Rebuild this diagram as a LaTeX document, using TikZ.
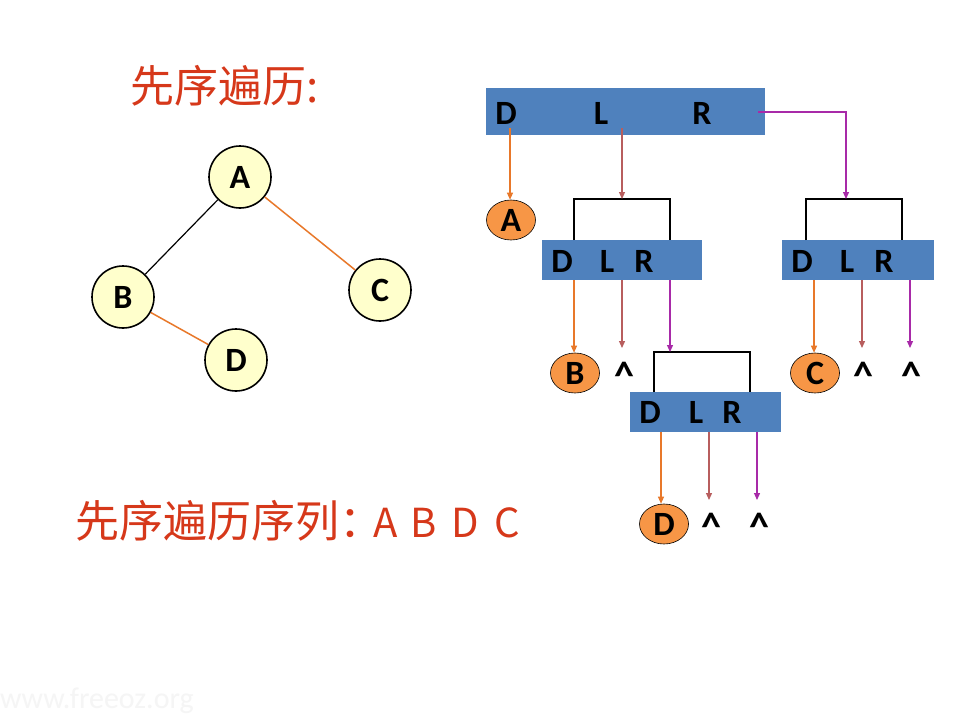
\documentclass[tikz,border=0pt]{standalone}
\usepackage{fontspec}
\setmainfont{Carlito}
\newfontfamily\cjk{Noto Sans CJK SC}
\usetikzlibrary{arrows.meta,shapes.geometric}
\definecolor{titlered}{HTML}{D6381A}
\definecolor{barblue}{HTML}{4F81BD}
\definecolor{nodeyel}{HTML}{FFFFCC}
\definecolor{ellorange}{HTML}{F79646}
\definecolor{arrorange}{HTML}{E8782A}
\definecolor{arrbrown}{HTML}{B85E5E}
\definecolor{arrmag}{HTML}{A82AA8}
\definecolor{edgeorange}{HTML}{E8782A}
\tikzset{
  treenode/.style={circle, draw=black, line width=1.6pt, fill=nodeyel, minimum size=62pt, inner sep=0pt, font=\fontsize{34}{34}\selectfont\bfseries},
  bar/.style={rectangle, fill=barblue, draw=none, inner sep=0pt, anchor=north west},
  barlbl/.style={font=\fontsize{34}{34}\selectfont\bfseries, inner sep=0pt},
  res/.style={ellipse, draw=black, line width=0.6pt, fill=ellorange, minimum width=49pt, minimum height=40pt, inner sep=0pt, font=\fontsize{34}{34}\selectfont\bfseries},
  nil/.style={font=\fontsize{40}{40}\selectfont\bfseries, inner sep=0pt},
  bracket/.style={draw=black, line width=1.5pt},
  tip/.style={-{Triangle[width=6pt,length=7pt]}},
  aD/.style={tip, draw=arrorange, line width=1.2pt, color=arrorange},
  aL/.style={tip, draw=arrbrown, line width=1.2pt, color=arrbrown},
  aR/.style={tip, draw=arrmag, line width=1.2pt, color=arrmag},
}
\begin{document}
\begin{tikzpicture}[x=1pt,y=-1pt]
\useasboundingbox[fill=white] (0,0) rectangle (960,720);
% titles
\node[titlered, font=\cjk\fontsize{44}{44}\selectfont, anchor=west, inner sep=0pt] (title) at (130,86) {先序遍历:};
\node[titlered, font=\cjk\fontsize{44}{44}\selectfont, anchor=west, inner sep=0pt] (seq) at (75,521) {先序遍历序列：{\fontsize{40}{40}\selectfont\hspace{-10pt}A\hspace{13pt}B\hspace{15pt}D\hspace{15pt}C}};
\node[gray!8, font=\fontsize{30}{30}\selectfont, anchor=west, inner sep=0pt] (wm) at (0,701) {www.freeoz.org};
% tree
\node[treenode] (A) at (240,177) {A};
\node[treenode] (B) at (123,297) {B};
\node[treenode] (C) at (380,290) {C};
\node[treenode] (D) at (236,360) {D};
\draw[black, line width=1.2pt] (A) -- (B);
\draw[edgeorange, line width=1.5pt] (A) -- (C);
\draw[edgeorange, line width=1.5pt] (B) -- (D);
% bars
\node[bar, minimum width=279pt, minimum height=47pt] (bar1) at (486,88) {};
\node[bar, minimum width=160pt, minimum height=40pt] (bar2) at (542,240) {};
\node[bar, minimum width=152pt, minimum height=40pt] (bar3) at (782,240) {};
\node[bar, minimum width=151pt, minimum height=40pt] (bar4) at (630,392) {};
\node[barlbl] (b1D) at (506,113) {D};
\node[barlbl] (b1L) at (601,113) {L};
\node[barlbl] (b1R) at (702,113) {R};
\node[barlbl] (b2D) at (562,261) {D};
\node[barlbl] (b2L) at (607,261) {L};
\node[barlbl] (b2R) at (644,261) {R};
\node[barlbl] (b3D) at (802,261) {D};
\node[barlbl] (b3L) at (847,261) {L};
\node[barlbl] (b3R) at (884,261) {R};
\node[barlbl] (b4D) at (650,412) {D};
\node[barlbl] (b4L) at (696,412) {L};
\node[barlbl] (b4R) at (732,412) {R};
% brackets
\coordinate (k1) at (622,199);
\coordinate (k2) at (846,199);
\coordinate (k3) at (670,352);
\draw[bracket] (574,240) -- (574,199) -- (670,199) -- (670,240);
\draw[bracket] (806,240) -- (806,199) -- (902,199) -- (902,240);
\draw[bracket] (654,392) -- (654,352) -- (750,352) -- (750,392);
% results
\node[res] (rA) at (511,220) {A};
\node[res] (rB) at (575,373) {B};
\node[res] (rC) at (815,373) {C};
\node[res] (rD) at (664,524) {D};
\node[nil] (n2L) at (624,376) {\^{}};
\node[nil] (n3L) at (863,376) {\^{}};
\node[nil] (n3R) at (911,376) {\^{}};
\node[nil] (n4L) at (711,527) {\^{}};
\node[nil] (n4R) at (759,527) {\^{}};
% bar1 arrows
\draw[aD] (510,128) -- (rA.north -| 510,0);
\draw[aL] (622,128) -- (k1);
\draw[aR] (758,112) -- (846,112) -- (k2);
% bar2 arrows
\draw[aD] (bar2.south -| 574,0) -- (rB.north -| 574,0);
\draw[aL] (bar2.south -| 622,0) -- (622,348);
\draw[aR] (bar2.south -| 670,0) -- (k3);
% bar3 arrows
\draw[aD] (bar3.south -| 814,0) -- (rC.north -| 814,0);
\draw[aL] (bar3.south -| 862,0) -- (862,348);
\draw[aR] (bar3.south -| 910,0) -- (910,348);
% bar4 arrows
\draw[aD] (bar4.south -| 661,0) -- (rD.north -| 661,0);
\draw[aL] (bar4.south -| 709,0) -- (709,500);
\draw[aR] (bar4.south -| 757,0) -- (757,500);
\end{tikzpicture}
\end{document}
